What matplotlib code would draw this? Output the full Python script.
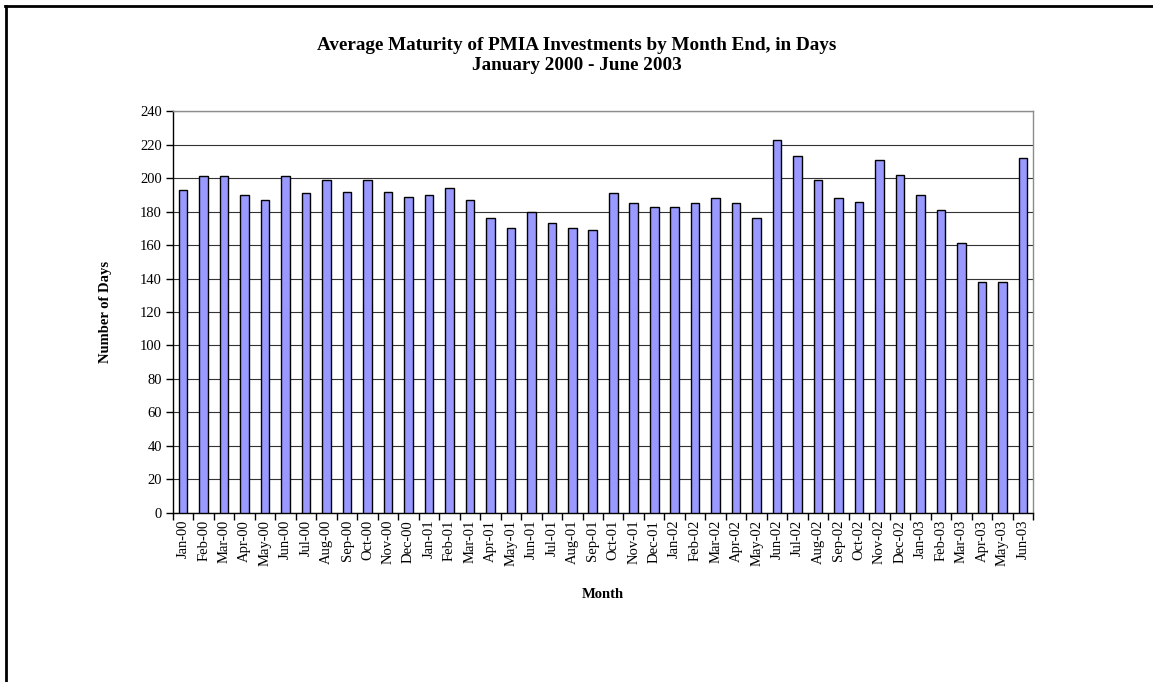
import matplotlib.pyplot as plt
import numpy as np
from matplotlib.lines import Line2D

# month-end average maturity, in days
months = ['Jan-00', 'Feb-00', 'Mar-00', 'Apr-00', 'May-00', 'Jun-00', 'Jul-00',
          'Aug-00', 'Sep-00', 'Oct-00', 'Nov-00', 'Dec-00',
          'Jan-01', 'Feb-01', 'Mar-01', 'Apr-01', 'May-01', 'Jun-01', 'Jul-01',
          'Aug-01', 'Sep-01', 'Oct-01', 'Nov-01', 'Dec-01',
          'Jan-02', 'Feb-02', 'Mar-02', 'Apr-02', 'May-02', 'Jun-02', 'Jul-02',
          'Aug-02', 'Sep-02', 'Oct-02', 'Nov-02', 'Dec-02',
          'Jan-03', 'Feb-03', 'Mar-03', 'Apr-03', 'May-03', 'Jun-03']
days_2000 = [193, 201, 201, 190, 187, 201, 191, 199, 192, 199, 192, 189]
days_2001 = [190, 194, 187, 176, 170, 180, 173, 170, 169, 191, 185, 183]
days_2002 = [183, 185, 188, 185, 176, 223, 213, 199, 188, 186, 211, 202]
days_2003 = [190, 181, 161, 138, 138, 212]
days = days_2000 + days_2001 + days_2002 + days_2003

plt.rcParams['font.family'] = ['Liberation Serif', 'DejaVu Serif']

fig = plt.figure(figsize=(11.53, 6.82), dpi=100)
ax = fig.add_axes([0.150, 0.248, 0.746, 0.589])

x = np.arange(len(months))
ax.bar(x, days, width=0.42, color='#9999FF', edgecolor='black', linewidth=1.0, zorder=3)

ax.set_xlim(-0.5, len(months) - 0.5)
ax.set_ylim(0, 240)
ax.set_yticks(range(0, 241, 20))
ax.yaxis.grid(True, color='#333333', linewidth=0.8, zorder=0)
ax.set_axisbelow(True)

# ticks sit between categories, labels centred under each bar
ax.set_xticks(np.arange(-0.5, len(months), 1.0))
ax.set_xticklabels([])
ax.set_xticks(x, minor=True)
ax.set_xticklabels(months, minor=True, rotation=90, fontsize=10.5)
ax.tick_params(axis='x', which='minor', length=0, pad=5)
ax.tick_params(axis='x', which='major', length=5, width=1, direction='out', color='black')
ax.tick_params(axis='y', length=5, width=1, direction='out', labelsize=10.5, pad=3)

for side in ['left', 'bottom']:
    ax.spines[side].set_color('black')
    ax.spines[side].set_linewidth(1.0)
for side in ['top', 'right']:
    ax.spines[side].set_color('#8c8c8c')
    ax.spines[side].set_linewidth(1.0)

ax.set_ylabel('Number of Days', fontsize=10.5, fontweight='bold', labelpad=20)
ax.set_xlabel('Month', fontsize=10.5, fontweight='bold', labelpad=16)

fig.text(0.5, 1 - 45 / 682, 'Average Maturity of PMIA Investments by Month End, in Days',
         ha='center', va='center', fontsize=13.8, fontweight='bold')
fig.text(0.5, 1 - 65 / 682, 'January 2000 - June 2003',
         ha='center', va='center', fontsize=13.8, fontweight='bold')

# border along the top and left of the chart area
fig.add_artist(Line2D([5 / 1153, 1], [1 - 5.5 / 682, 1 - 5.5 / 682],
                      transform=fig.transFigure, color='black', linewidth=2))
fig.add_artist(Line2D([5.5 / 1153, 5.5 / 1153], [0, 1 - 5.5 / 682],
                      transform=fig.transFigure, color='black', linewidth=2))

fig.savefig('out.png', dpi=100)
